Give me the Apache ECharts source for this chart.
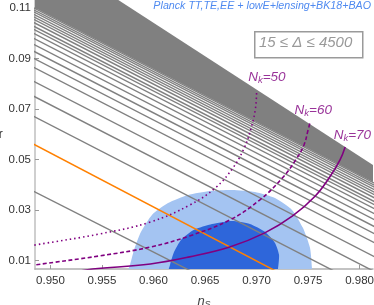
<!DOCTYPE html>
<html><head><meta charset="utf-8">
<script src="https://cdn.jsdelivr.net/npm/echarts@6/dist/echarts.min.js"></script>
<style>html,body{margin:0;padding:0;background:#fff}#c{width:374px;height:305px}</style>
</head><body><div id="c"></div>
<script>
// axis ticks
const xTicks = [0.950, 0.955, 0.960, 0.965, 0.970, 0.975, 0.980];
const yTicks = [0.01, 0.03, 0.05, 0.07, 0.09, 0.11];
const X_MIN = 0.9485, X_MAX = 0.9813, Y_MIN = 0.0067, Y_MAX = 0.1132;

// gray family of lines (15 <= Delta <= 4500): r at ns=0.948 and at ns=0.982
const grayNs = [0.948, 0.982];
const grayStartR = [0.0382,0.0679,0.0759,0.0818,0.0873,0.0909,0.0937,0.0964,0.0988,0.1008,
  0.1024,0.1036,0.1051,0.1063,0.1073,0.1083,0.1093,0.1101,0.1109];
const grayEndR = [-0.0321,-0.0035,0.0045,0.0104,0.0159,0.0195,0.0223,0.0250,0.0274,0.0294,
  0.0310,0.0322,0.0337,0.0349,0.0359,0.0369,0.0379,0.0387,0.0395];
// upper boundary of the allowed region (lines accumulate below it)
const boundaryNs = [0.948, 0.982];
const boundaryR = [0.1359, 0.0460];
// lower edge of the fully dense (solid) part of the line family
const denseEdgeR = [0.1111, 0.0397];

// orange line
const orangeNs = [0.948, 0.972];
const orangeR = [0.0569, 0.0056];

// N_k curves
const nk50 = [[0.9480,0.0158],[0.9485,0.0162],[0.9548,0.0206],[0.9597,0.0253],[0.9635,0.0320],[0.9660,0.0388],
  [0.9677,0.0467],[0.9688,0.0546],[0.9695,0.0629],[0.9699,0.0704],[0.9700,0.0764]];
const nk60 = [[0.9480,0.0079],[0.9485,0.0083],[0.9548,0.0119],[0.9597,0.0154],[0.9635,0.0198],[0.9674,0.0261],
  [0.9703,0.0340],[0.9725,0.0427],[0.9738,0.0499],[0.9746,0.0558],[0.9750,0.0617],[0.9752,0.0649]];
const nk70 = [[0.9529,0.0059],[0.9541,0.0067],[0.9597,0.0087],[0.9635,0.0115],[0.9674,0.0154],[0.9708,0.0210],
  [0.9735,0.0277],[0.9757,0.0356],[0.9771,0.0431],[0.9781,0.0499],[0.9786,0.0550]];
const nkLabels = ['50', '60', '70'];
const nkLabelPos = [[0.9710,0.0827],[0.9755,0.0697],[0.9793,0.0598]];

// Planck contours
const planck95 = [[0.95743,0.0040],[0.95772,0.0083],[0.95811,0.0142],[0.95879,0.0214],[0.95985,0.0281],[0.96141,0.0328],
  [0.96335,0.0360],[0.96548,0.0376],[0.96762,0.0380],[0.96985,0.0372],[0.97179,0.0348],[0.97344,0.0301],
  [0.97451,0.0229],[0.97519,0.0150],[0.97538,0.0067],[0.97538,0.0040]];
const planck68 = [[0.96141,0.0040],[0.96160,0.0083],[0.96199,0.0134],[0.96267,0.0182],[0.96393,0.0222],[0.96568,0.0245],
  [0.96762,0.0257],[0.96936,0.0245],[0.97082,0.0214],[0.97179,0.0170],[0.97218,0.0123],[0.97208,0.0067],[0.97189,0.0040]];

const chart = echarts.init(document.getElementById('c'), null, {renderer: 'canvas'});
const series = [];
function poly(pts, color, z, smooth) {
  return {type: 'custom', clip: true, silent: true, z: z, data: [0],
    renderItem: (params, api) => ({type: 'polygon', shape: {points: pts.map(p => api.coord(p)), smooth: smooth},
      style: {fill: color}})};
}
series.push(poly(planck95, '#a4c4f2', 1, 0.2));
series.push(poly(planck68, '#2e66da', 1, 0.2));
// solid dense band of gray lines
series.push(poly([[grayNs[0], denseEdgeR[0]], [grayNs[1], denseEdgeR[1]],
  [boundaryNs[1], boundaryR[1]], [boundaryNs[0], boundaryR[0]]], '#808080', 2, 0));

const db = boundaryR[1] - boundaryR[0];
grayStartR.forEach((s, i) => {
  const e = grayEndR[i];
  let t = (s - boundaryR[0]) / (db - (e - s));
  if (!(t > 0) || t > 1) t = 1;
  const nsEnd = grayNs[0] + (grayNs[1] - grayNs[0]) * t;
  const rEnd = s + (e - s) * t;
  series.push({type: 'line', silent: true, symbol: 'none', z: 2, clip: true,
    lineStyle: {color: '#808080', width: 1.4},
    data: [[grayNs[0], s], [nsEnd, rEnd]]});
});
series.push({type: 'line', silent: true, symbol: 'none', z: 3, clip: true,
  lineStyle: {color: '#ff8000', width: 1.5},
  data: [[orangeNs[0], orangeR[0]], [orangeNs[1], orangeR[1]]]});
const purple = '#800080';
[[nk50, [1.5, 3]], [nk60, [4, 2.5]], [nk70, 'solid']].forEach(([d, type]) => {
  series.push({type: 'line', silent: true, symbol: 'none', z: 4, clip: true, smooth: 0.4,
    lineStyle: {color: purple, width: 1.6, type: type}, data: d});
});
series.push({type: 'scatter', silent: true, symbolSize: 0, z: 5, clip: false,
  data: nkLabelPos.map((p, i) => ({value: p, label: {formatter: '{n|N}{k|k}{n|=' + nkLabels[i] + '}'}})),
  label: {show: true, position: 'inside',
    rich: {n: {fontSize: 13.5, fontStyle: 'italic', color: purple, fontFamily: 'Liberation Sans'},
           k: {fontSize: 9.5, fontStyle: 'italic', color: purple, fontFamily: 'Liberation Sans', verticalAlign: 'bottom', padding: [6, 0, 0, 0]}}}});

chart.setOption({
  animation: false,
  backgroundColor: '#fff',
  grid: {left: 35, right: 1, top: 0, bottom: 36, containLabel: false, outerBoundsMode: 'none'},
  xAxis: {type: 'value', min: X_MIN, max: X_MAX,
    name: '{i|n}{s|S}', nameLocation: 'middle', nameGap: 25,
    nameTextStyle: {rich: {i: {fontSize: 13, fontStyle: 'italic', color: '#444', fontFamily: 'Liberation Sans'},
                           s: {fontSize: 9, fontStyle: 'italic', color: '#444', fontFamily: 'Liberation Sans', padding: [6, 0, 0, 0]}}},
    axisLine: {show: true, lineStyle: {color: '#b0b0b0', width: 1.5}},
    axisTick: {show: true, inside: true, length: 4, customValues: xTicks, lineStyle: {color: '#999'}},
    axisLabel: {customValues: xTicks, formatter: v => v.toFixed(3), fontSize: 11.5, color: '#333', margin: 6, fontFamily: 'Liberation Sans'},
    splitLine: {show: false}},
  yAxis: {type: 'value', min: Y_MIN, max: Y_MAX,
    name: 'r', nameLocation: 'middle', nameGap: 28, nameRotate: 0,
    nameTextStyle: {fontSize: 12, color: '#333', fontFamily: 'Liberation Sans'},
    axisLine: {show: true, lineStyle: {color: '#cfcfcf', width: 2}},
    axisTick: {show: true, inside: true, length: 4, customValues: yTicks, lineStyle: {color: '#999'}},
    axisLabel: {customValues: yTicks, formatter: v => v.toFixed(2), fontSize: 11.5, color: '#333', margin: 4, fontFamily: 'Liberation Sans'},
    splitLine: {show: false}},
  graphic: [
    {type: 'text', right: 3, top: 1, z: 10,
      style: {text: 'Planck TT,TE,EE + lowE+lensing+BK18+BAO', fontSize: 10.7, fontStyle: 'italic',
        fill: '#4f8af0', fontFamily: 'Liberation Sans'}},
    {type: 'rect', left: 254, top: 31, z: 10, shape: {width: 108, height: 26},
      style: {fill: '#fff', stroke: '#9a9a9a', lineWidth: 1.5}},
    {type: 'text', left: 259, top: 35, z: 11,
      style: {text: '15 ≤ Δ ≤ 4500', fontSize: 15, fontStyle: 'italic', fill: '#999', fontFamily: 'Liberation Sans'}}
  ],
  series: series
});
</script></body></html>
